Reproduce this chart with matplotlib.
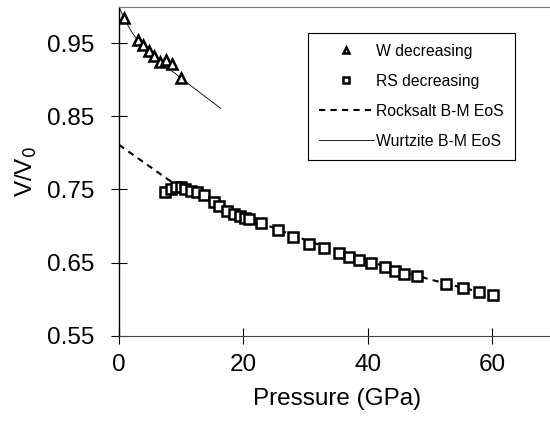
import matplotlib
matplotlib.use("Agg")
from matplotlib import pyplot as plt

plt.rcParams["font.family"] = ["Liberation Sans", "DejaVu Sans"]

# W decreasing (triangles)
w_p = [0.8, 3.1, 3.9, 4.9, 5.6, 6.6, 7.6, 8.5, 9.9]
w_v = [0.984, 0.954, 0.948, 0.939, 0.932, 0.925, 0.927, 0.922, 0.903]

# RS decreasing (squares)
rs_p = [7.4, 8.3, 9.2, 9.9, 10.6, 11.5, 12.6, 13.6, 15.2, 16.1, 17.3, 18.5,
        19.5, 20.3, 20.9, 22.9, 25.6, 28.0, 30.6, 33.0, 35.3, 36.9, 38.6,
        40.5, 42.8, 44.4, 45.8, 47.9, 52.6, 55.3, 57.9, 60.2]
rs_v = [0.746, 0.751, 0.753, 0.753, 0.751, 0.748, 0.746, 0.742, 0.733, 0.728,
        0.721, 0.717, 0.714, 0.711, 0.710, 0.704, 0.695, 0.685, 0.676, 0.670,
        0.663, 0.658, 0.654, 0.649, 0.644, 0.639, 0.635, 0.631, 0.621, 0.615,
        0.610, 0.606]

# fitted EoS curves
rs_fit_p = [0, 4, 8, 10, 12, 15, 20, 25, 30, 35, 40, 45, 50, 55, 60]
rs_fit_v = [0.811, 0.787, 0.763, 0.753, 0.744, 0.732, 0.714, 0.697, 0.681,
            0.666, 0.652, 0.639, 0.627, 0.616, 0.606]
wz_fit_p = [0, 0.5, 1, 2, 3, 4, 5, 6, 7, 8, 9, 10, 12, 14, 16.35]
wz_fit_v = [1.0, 0.990, 0.981, 0.966, 0.954, 0.945, 0.937, 0.929, 0.922,
            0.915, 0.909, 0.902, 0.889, 0.876, 0.861]

fig = plt.figure(figsize=(5.5, 4.26), dpi=100)
ax = fig.add_axes([119 / 550, 90.3 / 426, 435.4 / 550, 329 / 426])

ax.plot(w_p, w_v, linestyle="none", marker="^", markersize=7,
        markerfacecolor="white", markeredgecolor="black", markeredgewidth=1.8,
        label="W decreasing", zorder=3)
ax.plot(rs_p, rs_v, linestyle="none", marker="s", markersize=6.5,
        markerfacecolor="white", markeredgecolor="black", markeredgewidth=1.8,
        label="RS decreasing", zorder=3)
ax.plot(rs_fit_p, rs_fit_v, color="black", linestyle=(0, (3, 2.5)),
        linewidth=1.5, label="Rocksalt B-M EoS", zorder=2)
ax.plot(wz_fit_p, wz_fit_v, color="black", linewidth=0.6,
        label="Wurtzite B-M EoS", zorder=2)

ax.set_xlim(0, 70)
ax.set_ylim(0.55, 1.0)
ax.set_xticks([0, 20, 40, 60])
ax.set_yticks([0.55, 0.65, 0.75, 0.85, 0.95])
ax.set_yticklabels(["0.55", "0.65", "0.75", "0.85", "0.95"])
ax.tick_params(direction="inout", length=11, width=0.8, labelsize=17.5)
ax.tick_params(axis="y", pad=12)
ax.tick_params(axis="x", pad=8)

ax.spines["right"].set_visible(False)
ax.spines["top"].set_color("#777777")
ax.spines["top"].set_linewidth(0.8)
ax.spines["left"].set_linewidth(1.0)
ax.spines["bottom"].set_color("#444444")

ax.set_xlabel("Pressure (GPa)", fontsize=17.5, labelpad=8)
ax.set_ylabel("V/V$_0$", fontsize=17.5, labelpad=6)

leg = ax.legend(loc="upper left", bbox_to_anchor=(308 / 550, 1 - 33 / 426),
                bbox_transform=fig.transFigure, borderaxespad=0,
                fontsize=11.3, numpoints=1, handlelength=3.5,
                handletextpad=0.15, labelspacing=0.95, borderpad=0.7,
                fancybox=False, framealpha=1, edgecolor="black")
leg.get_frame().set_linewidth(0.8)
for h in leg.legend_handles[:2]:
    h.set_markersize(5)
    h.set_markeredgewidth(1.8)

fig.savefig("out.png", dpi=100)
